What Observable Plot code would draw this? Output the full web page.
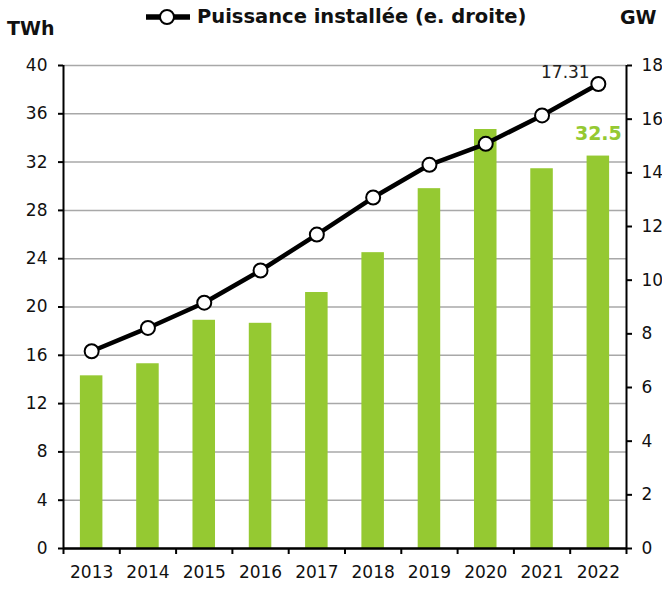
<!DOCTYPE html>
<html>
<head>
<meta charset="utf-8">
<script src="https://cdn.jsdelivr.net/npm/d3@7"></script>
<script src="https://cdn.jsdelivr.net/npm/@observablehq/plot@0.6"></script>
<style>
  body { margin: 0; background: #fff; font-family: "DejaVu Sans", sans-serif; }
  #wrap { position: relative; width: 662px; }
  #header { position: relative; height: 48px; }
  .unit { position: absolute; font-weight: bold; font-size: 19px; color: #111; }
  #legend { position: absolute; left: 145px; top: 5px; display: flex; align-items: center; font-weight: bold; font-size: 19.5px; color: #111; }
</style>
</head>
<body>
<div id="wrap">
  <div id="header">
    <div class="unit" style="left:7px; top:17px;">TWh</div>
    <div class="unit" style="left:620px; top:6px;">GW</div>
    <div id="legend">
      <svg width="46" height="20" style="margin-right:6px"><line x1="1" y1="10" x2="45" y2="10" stroke="#000" stroke-width="5.5"/><circle cx="22" cy="10" r="7" fill="#fff" stroke="#000" stroke-width="2"/></svg>
      <span>Puissance installée (e. droite)</span>
    </div>
  </div>
  <div id="chart"></div>
</div>
<script>
const years = [2013, 2014, 2015, 2016, 2017, 2018, 2019, 2020, 2021, 2022];
const production = [14.3, 15.3, 18.9, 18.65, 21.2, 24.5, 29.8, 34.7, 31.45, 32.5]; // TWh
const capacity = [7.35, 8.22, 9.16, 10.36, 11.70, 13.08, 14.30, 15.08, 16.14, 17.31]; // GW
const leftTicks = [0, 4, 8, 12, 16, 20, 24, 28, 32, 36, 40];
const rightTicks = [0, 2, 4, 6, 8, 10, 12, 14, 16, 18];

const k = 40 / 18;
const data = years.map((y, i) => ({year: y, twh: production[i], gw: capacity[i]}));
const last = data[data.length - 1];
const bounds = [years[0] - 0.5, ...years.map(y => y + 0.5)];
const green = "#95c932";
const font = "DejaVu Sans, sans-serif";

const chart = Plot.plot({
  width: 662,
  height: 547,
  marginTop: 17,
  marginBottom: 47,
  marginLeft: 63,
  marginRight: 36,
  style: {fontFamily: font, fontSize: "17px", color: "#111", background: "#fff"},
  x: {domain: [bounds[0], bounds[bounds.length - 1]]},
  y: {domain: [0, 40]},
  marks: [
    Plot.ruleY(leftTicks, {stroke: "#a8a8a8", strokeWidth: 1.5}),
    Plot.rectY(data, {x1: d => d.year - 0.2, x2: d => d.year + 0.2, y: "twh", fill: green}),
    Plot.line(data, {x: "year", y: d => d.gw * k, stroke: "#000", strokeWidth: 4.5}),
    Plot.dot(data, {x: "year", y: d => d.gw * k, r: 7, fill: "#fff", stroke: "#000", strokeWidth: 2}),
    Plot.text([last], {x: "year", y: d => d.gw * k, text: d => d.gw.toFixed(2), dx: -33, dy: -11, fontSize: 17, fill: "#222"}),
    Plot.text([last], {x: "year", y: "twh", text: d => String(d.twh), dy: -22, fontSize: 19, fontWeight: "bold", fill: green}),
    Plot.axisY({ticks: leftTicks, tickSize: 5, tickPadding: 11, label: null, stroke: "#000", strokeWidth: 2, fontSize: 17}),
    Plot.ruleX([bounds[0]], {stroke: "#000", strokeWidth: 2}),
    Plot.axisY({anchor: "right", ticks: rightTicks.map(g => g * k), tickFormat: d => String(Math.round(d / k)), tickSize: 5, tickPadding: 10, label: null, stroke: "#000", strokeWidth: 2, fontSize: 17}),
    Plot.ruleX([bounds[bounds.length - 1]], {stroke: "#000", strokeWidth: 2}),
    Plot.ruleY([0], {stroke: "#000", strokeWidth: 2.5}),
    Plot.axisX({ticks: bounds, tickFormat: () => "", tickSize: 6, label: null, stroke: "#000", strokeWidth: 2}),
    Plot.axisX({ticks: years, tickFormat: d => String(d), tickSize: 0, tickPadding: 17, label: null, fontSize: 17})
  ]
});
document.getElementById("chart").appendChild(chart);
</script>
</body>
</html>
